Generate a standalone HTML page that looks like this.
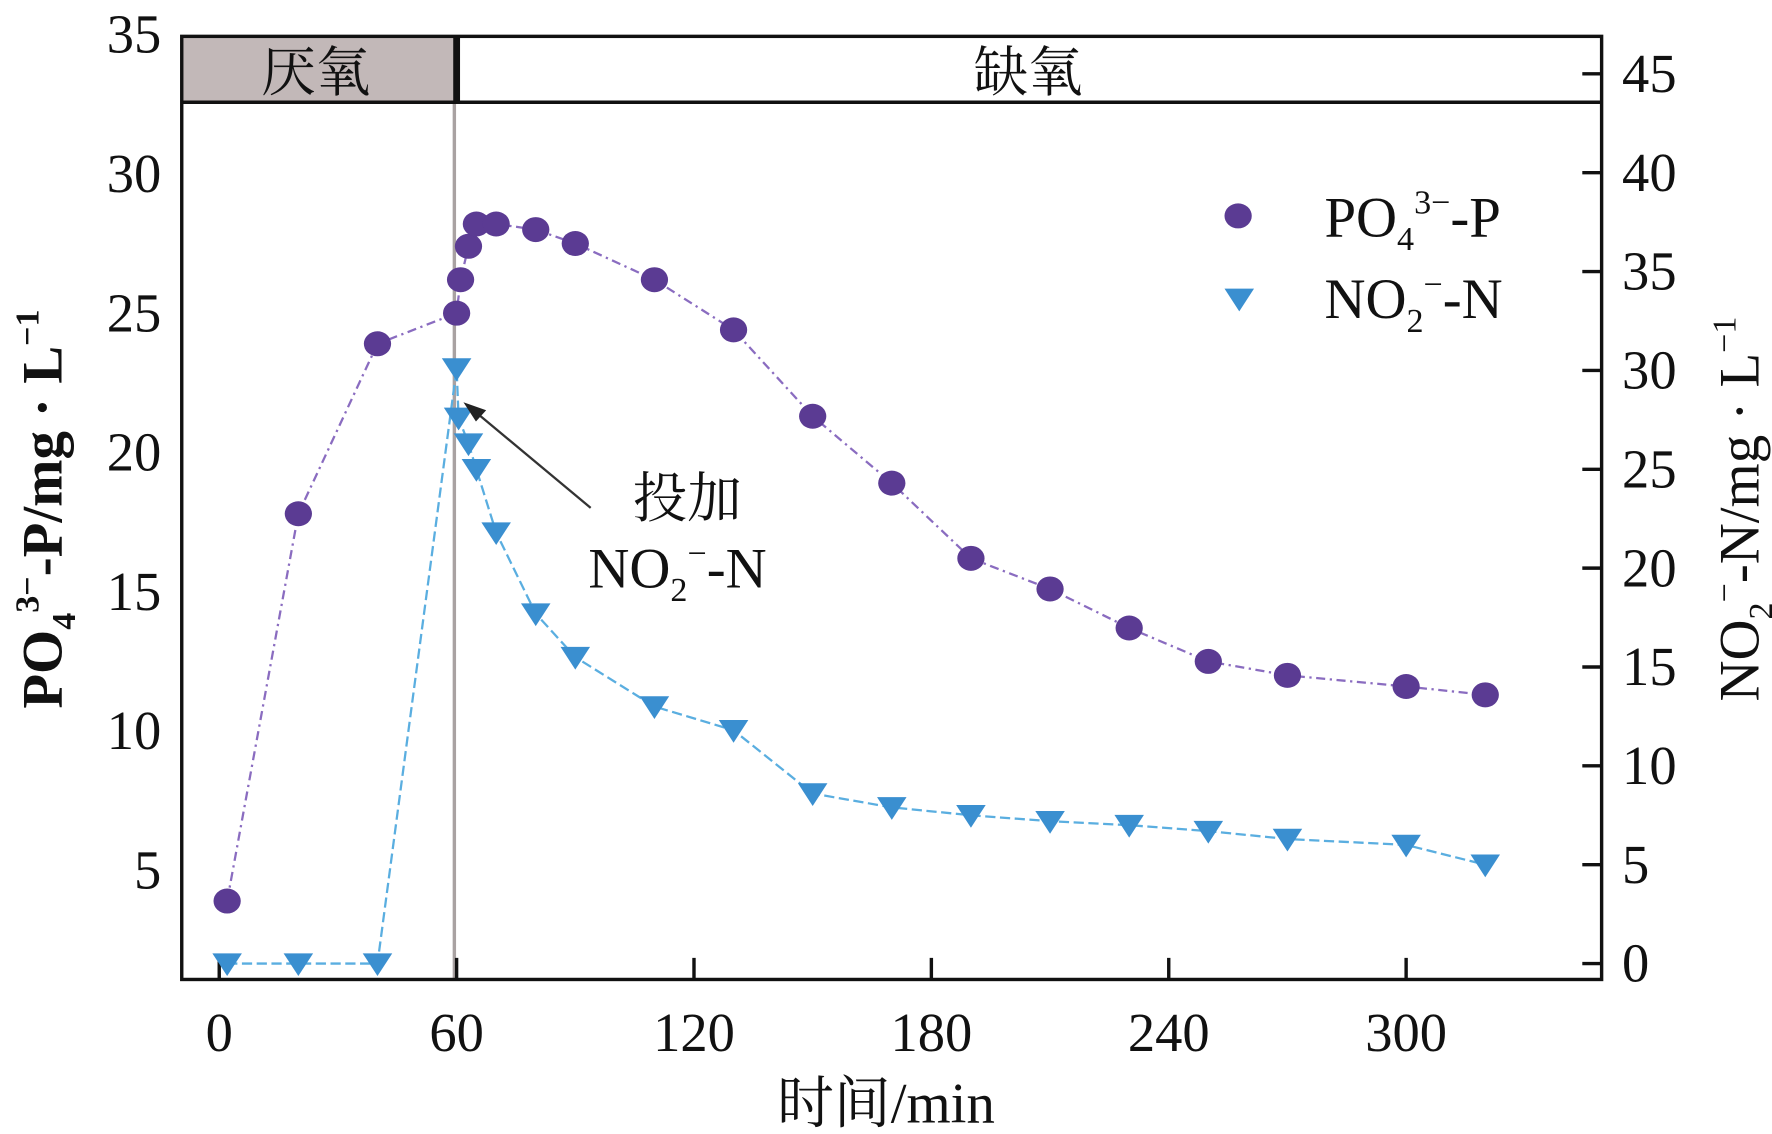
<!DOCTYPE html>
<html><head><meta charset="utf-8"><style>
html,body{margin:0;padding:0;background:#fff}
svg{display:block}
text{font-family:"Liberation Serif","Noto Serif CJK SC",serif;fill:#111}
</style></head><body>
<svg id="chart" width="1772" height="1134" viewBox="0 0 1560 998" preserveAspectRatio="none" xmlns="http://www.w3.org/2000/svg">
<g id="g"></g>
</svg>
<script>
const xTicks=[0,60,120,180,240,300];
const leftTicks=[5,10,15,20,25,30,35];
const rightTicks=[0,5,10,15,20,25,30,35,40,45];
const poTimes=[2,20,40,60,61,63,65,70,80,90,110,130,150,170,190,210,230,250,270,300,320];
const poValues=[3.9,17.8,23.9,25.0,26.2,27.4,28.2,28.2,28.0,27.5,26.2,24.4,21.3,18.9,16.2,15.1,13.7,12.5,12.0,11.6,11.3];
const noTimes=[2,20,40,60,60.5,63,65,70,80,90,110,130,150,170,190,210,230,250,270,300,320];
const noValues=[0,0,0,30.1,27.6,26.3,25.0,21.8,17.7,15.5,13.0,11.8,8.6,7.9,7.5,7.2,7.0,6.7,6.3,6.0,5.0];

const NS='http://www.w3.org/2000/svg';
const g=document.getElementById('g');
const X=t=>193+t*3.483;
const YL=v=>766-(v-5)*24.52;
const YR=v=>848-v*17.4;
function mk(tag,attrs,parent){const e=document.createElementNS(NS,tag);for(const k in attrs)e.setAttribute(k,attrs[k]);(parent||g).appendChild(e);return e;}

let e=mk('rect',{x:160,y:32,width:242,height:58,fill:'#c2b8b8'});


e=mk('line',{x1:400,y1:90,x2:400,y2:862,stroke:'#a9a2a2','stroke-width':3});


mk('line',{x1:160,y1:90,x2:1410,y2:90,stroke:'#111','stroke-width':3});
mk('line',{x1:402,y1:32,x2:402,y2:90,stroke:'#111','stroke-width':6});
e=mk('text',{x:278,y:80,'font-size':48,'text-anchor':'middle'});e.textContent='厌氧';


e=mk('text',{x:905,y:80,'font-size':48,'text-anchor':'middle'});e.textContent='缺氧';


e=mk('rect',{x:160,y:32,width:1250,height:830,fill:'none',stroke:'#111','stroke-width':3});



xTicks.forEach(t=>{
  mk('line',{x1:X(t),y1:862,x2:X(t),y2:843,stroke:'#111','stroke-width':3});
  const tx=mk('text',{x:X(t),y:925,'font-size':48,'text-anchor':'middle'});tx.textContent=t;
  
  
});
leftTicks.forEach(v=>{
  const tx=mk('text',{x:142,y:YL(v)+16,'font-size':48,'text-anchor':'end'});tx.textContent=v;
  
  
});
rightTicks.forEach(v=>{
  mk('line',{x1:1393,y1:YR(v),x2:1410,y2:YR(v),stroke:'#111','stroke-width':3});
  const tx=mk('text',{x:1428,y:YR(v)+16,'font-size':48}); tx.textContent=v;
  
  
});

let d=poTimes.map((t,i)=>(i?'L':'M')+X(t)+','+YL(poValues[i])).join(' ');
e=mk('path',{d:d,fill:'none',stroke:'#8a6cc0','stroke-width':2,'stroke-dasharray':'8,4,2,4'});


d=noTimes.map((t,i)=>(i?'L':'M')+X(t)+','+YR(noValues[i])).join(' ');
e=mk('path',{d:d,fill:'none',stroke:'#5aaee0','stroke-width':2,'stroke-dasharray':'9,4'});


poTimes.forEach((t,i)=>{
  const c=mk('ellipse',{cx:X(t),cy:YL(poValues[i]),rx:12,ry:11,fill:'#5b3b93'});
  
  
});
noTimes.forEach((t,i)=>{
  const x=X(t),y=YR(noValues[i]);
  const p=mk('polygon',{points:`${x-13},${y-9} ${x+13},${y-9} ${x},${y+11}`,fill:'#3a8fd0'});
  
  
});

e=mk('ellipse',{cx:1090,cy:190,rx:12,ry:11,fill:'#5b3b93'});


e=mk('text',{x:1166,y:208,'font-size':50});
e.innerHTML='PO<tspan font-size="30" dy="12">4</tspan><tspan font-size="30" dy="-32">3−</tspan><tspan dy="20">-P</tspan>';


e=mk('polygon',{points:'1078,254 1104,254 1091,274',fill:'#3a8fd0'});


e=mk('text',{x:1166,y:280,'font-size':50});
e.innerHTML='NO<tspan font-size="30" dy="12">2</tspan><tspan font-size="30" dy="-32">−</tspan><tspan dy="20">-N</tspan>';



e=mk('line',{x1:520,y1:447,x2:418,y2:362,stroke:'#333','stroke-width':2});


mk('polygon',{points:'408,354 428,361 419,371',fill:'#222'});
e=mk('text',{x:605,y:455,'font-size':48,'text-anchor':'middle'});e.textContent='投加';


e=mk('text',{x:518,y:517,'font-size':50});
e.innerHTML='NO<tspan font-size="30" dy="12">2</tspan><tspan font-size="30" dy="-32">−</tspan><tspan dy="20">-N</tspan>';



e=mk('text',{x:780,y:988,'font-size':50,'text-anchor':'middle'});e.textContent='时间/min';


e=mk('text',{x:0,y:0,'font-size':50,'font-weight':'bold','text-anchor':'middle',transform:'translate(54,448) rotate(-90)'});
e.innerHTML='PO<tspan font-size="30" dy="12">4</tspan><tspan font-size="30" dy="-32">3−</tspan><tspan dy="20">-P/mg · L</tspan><tspan font-size="30" dy="-20">−1</tspan>';


e=mk('text',{x:0,y:0,'font-size':50,'text-anchor':'middle',transform:'translate(1548,448) rotate(-90)'});
e.innerHTML='NO<tspan font-size="30" dy="12">2</tspan><tspan font-size="30" dy="-32">−</tspan><tspan dy="20">-N/mg · L</tspan><tspan font-size="30" dy="-20">−1</tspan>';


</script>
</body></html>
